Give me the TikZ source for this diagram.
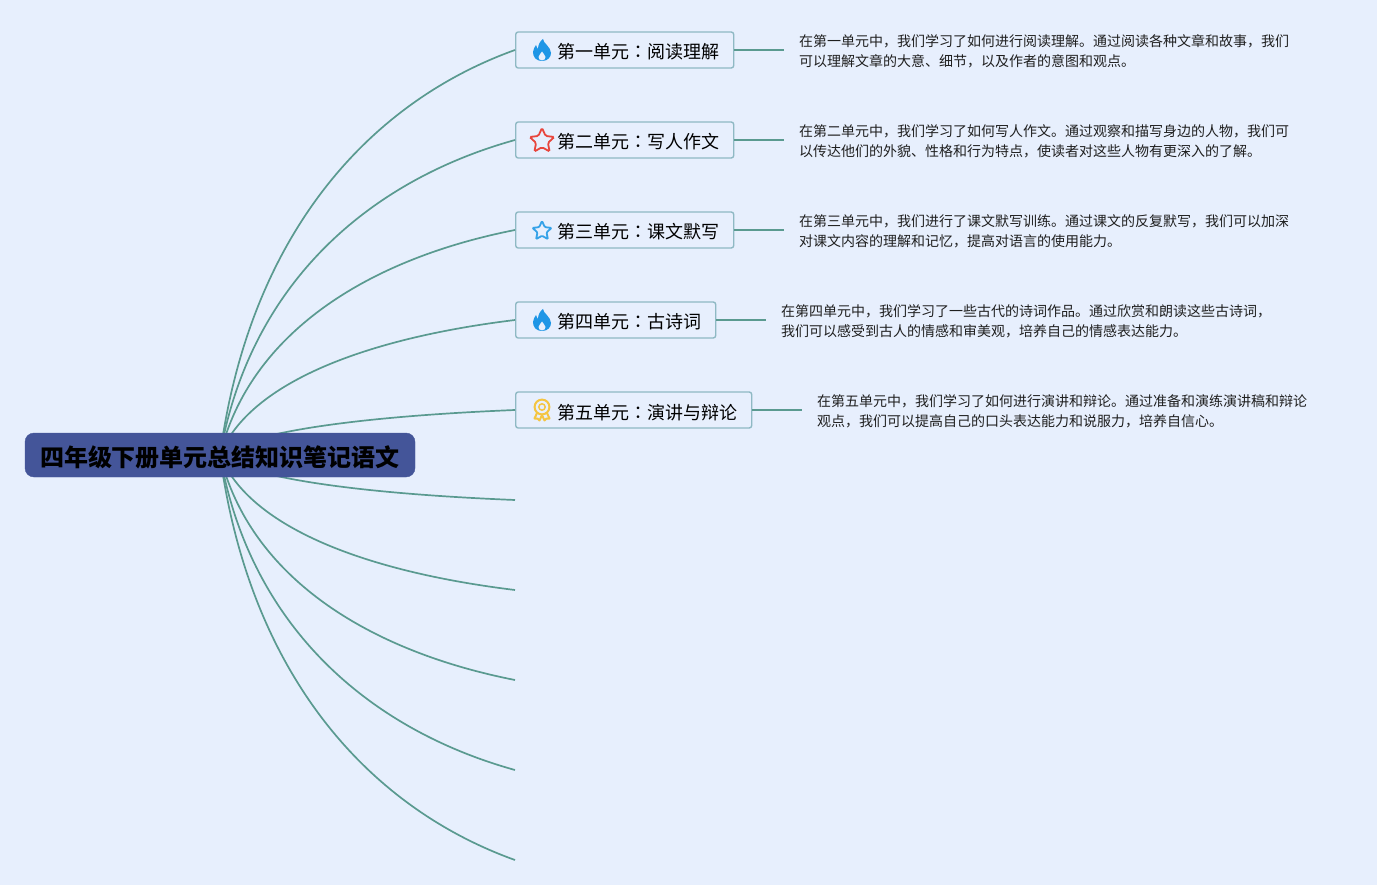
\documentclass[tikz,border=0pt]{standalone}
\usepackage{fontspec}
\setmainfont{Noto Sans CJK SC}
\newfontfamily\midcolon{Noto Sans CJK TC}
\usetikzlibrary{shapes.geometric}
\definecolor{pagebg}{HTML}{E7EFFD}
\definecolor{rootblue}{HTML}{445599}
\definecolor{branchteal}{HTML}{5A9A90}
\definecolor{boxedge}{HTML}{8FB9C4}
\definecolor{flameblue}{HTML}{1E96E6}
\definecolor{starred}{HTML}{E8453C}
\definecolor{starblue}{HTML}{35A2E8}
\definecolor{medalgold}{HTML}{F4C542}
\newcommand{\unitlabel}[2]{\hspace*{27pt}#1{\midcolon ：}#2\hspace*{-1pt}}
\tikzset{
  rootbox/.style={draw=rootblue, fill=rootblue, rounded corners=9pt, minimum width=390pt, minimum height=44pt, inner sep=0pt, text height=23pt, text depth=0pt, font=\fontsize{24}{24}\selectfont\bfseries},
  unitbox/.style={draw=boxedge, line width=1.4pt, fill=pagebg, rounded corners=2.5pt, anchor=west, minimum height=36pt, inner xsep=15pt, inner ysep=0pt, text height=18pt, text depth=0pt, font=\fontsize{18}{18}\selectfont},
  detailtext/.style={anchor=west, inner xsep=15pt, inner ysep=0pt, align=left, text=black!88, font=\fontsize{14}{20}\selectfont},
  branchline/.style={draw=branchteal, line width=1.7pt},
  flameicon/.pic={
    \fill[flameblue] (0,11) .. controls (-6,11) and (-9,7) .. (-9,2) .. controls (-9,-1) and (-7,-3) .. (-6,-5) .. controls (-5,-3) and (-5,-2) .. (-4,-1) .. controls (-4,-5) and (-2,-9) .. (1,-11) .. controls (1,-7) and (9,-3) .. (9,3) .. controls (9,7) and (6,11) .. (0,11) -- cycle;
    \fill[pagebg] (0,10.5) .. controls (-2.5,10.5) and (-3.5,8.5) .. (-3.5,7) .. controls (-3.5,5) and (-1,4) .. (0,1.5) .. controls (1,4) and (3.5,5) .. (3.5,7) .. controls (3.5,8.5) and (2.5,10.5) .. (0,10.5) -- cycle;
  },
  medalicon/.pic={
    \draw[medalgold, line width=2pt, line join=round, fill=pagebg] (-4.5,2) -- (-7.5,8.5) -- (-4.5,8.5) -- (-2.5,10.5) -- (0,5) -- (2.5,10.5) -- (4.5,8.5) -- (7.5,8.5) -- (4.5,2) -- cycle;
    \draw[medalgold, line width=2pt, fill=pagebg] (0,-3) circle (7.4pt);
    \draw[medalgold, line width=1.5pt] (0,-3) circle (3.2pt);
  },
}
\begin{document}
\begin{tikzpicture}[x=1pt, y=-1pt]
\useasboundingbox (0,0) rectangle (1377,885);
\fill[pagebg] (0,0) rectangle (1377,885);
\coordinate (hub) at (220,455);
\coordinate (end6) at (515,500);
\coordinate (end7) at (515,590);
\coordinate (end8) at (515,680);
\coordinate (end9) at (515,770);
\coordinate (end10) at (515,860);
\node[unitbox] (unit1) at (515,50) {\unitlabel{第一单元}{阅读理解}};
\node[unitbox] (unit2) at (515,140) {\unitlabel{第二单元}{写人作文}};
\node[unitbox] (unit3) at (515,230) {\unitlabel{第三单元}{课文默写}};
\node[unitbox] (unit4) at (515,320) {\unitlabel{第四单元}{古诗词}};
\node[unitbox] (unit5) at (515,410) {\unitlabel{第五单元}{演讲与辩论}};
\node[detailtext] (detail1) at (784,51.5) {在第一单元中，我们学习了如何进行阅读理解。通过阅读各种文章和故事，我们\\可以理解文章的大意、细节，以及作者的意图和观点。};
\node[detailtext] (detail2) at (784,141.5) {在第二单元中，我们学习了如何写人作文。通过观察和描写身边的人物，我们可\\以传达他们的外貌、性格和行为特点，使读者对这些人物有更深入的了解。};
\node[detailtext] (detail3) at (784,231.5) {在第三单元中，我们进行了课文默写训练。通过课文的反复默写，我们可以加深\\对课文内容的理解和记忆，提高对语言的使用能力。};
\node[detailtext] (detail4) at (766,321.5) {在第四单元中，我们学习了一些古代的诗词作品。通过欣赏和朗读这些古诗词，\\我们可以感受到古人的情感和审美观，培养自己的情感表达能力。};
\node[detailtext] (detail5) at (802,411.5) {在第五单元中，我们学习了如何进行演讲和辩论。通过准备和演练演讲稿和辩论\\观点，我们可以提高自己的口头表达能力和说服力，培养自信心。};
\draw[branchline] (hub) .. controls (249.5,236) and (367.5,103) .. (unit1.west);
\draw[branchline] (hub) .. controls (249.5,285) and (367.5,181) .. (unit2.west);
\draw[branchline] (hub) .. controls (249.5,333.5) and (367.5,259) .. (unit3.west);
\draw[branchline] (hub) .. controls (249.5,382) and (367.5,338) .. (unit4.west);
\draw[branchline] (hub) .. controls (249.5,431) and (367.5,416) .. (unit5.west);
\draw[branchline] (hub) .. controls (249.5,479) and (367.5,494) .. (end6);
\draw[branchline] (hub) .. controls (249.5,528) and (367.5,572) .. (end7);
\draw[branchline] (hub) .. controls (249.5,576.5) and (367.5,651) .. (end8);
\draw[branchline] (hub) .. controls (249.5,625) and (367.5,729) .. (end9);
\draw[branchline] (hub) .. controls (249.5,674) and (367.5,807) .. (end10);
\draw[branchline] (unit1.east) -- (unit1.east -| detail1.west);
\draw[branchline] (unit2.east) -- (unit2.east -| detail2.west);
\draw[branchline] (unit3.east) -- (unit3.east -| detail3.west);
\draw[branchline] (unit4.east) -- (unit4.east -| detail4.west);
\draw[branchline] (unit5.east) -- (unit5.east -| detail5.west);
\node[rootbox] (root) at (hub) {四年级下册单元总结知识笔记语文};
\pic at (542,50) {flameicon};
\node[star, star points=5, star point ratio=2.1, draw=starred, line width=1.8pt, rounded corners=1.5pt, fill=pagebg, inner sep=0pt, minimum size=26pt] (star2) at (542,141) {};
\node[star, star points=5, star point ratio=2.1, draw=starblue, line width=1.8pt, rounded corners=1pt, fill=pagebg, inner sep=0pt, minimum size=20pt] (star3) at (542,231) {};
\pic at (542,320) {flameicon};
\pic at (542,410) {medalicon};
\end{tikzpicture}
\end{document}
